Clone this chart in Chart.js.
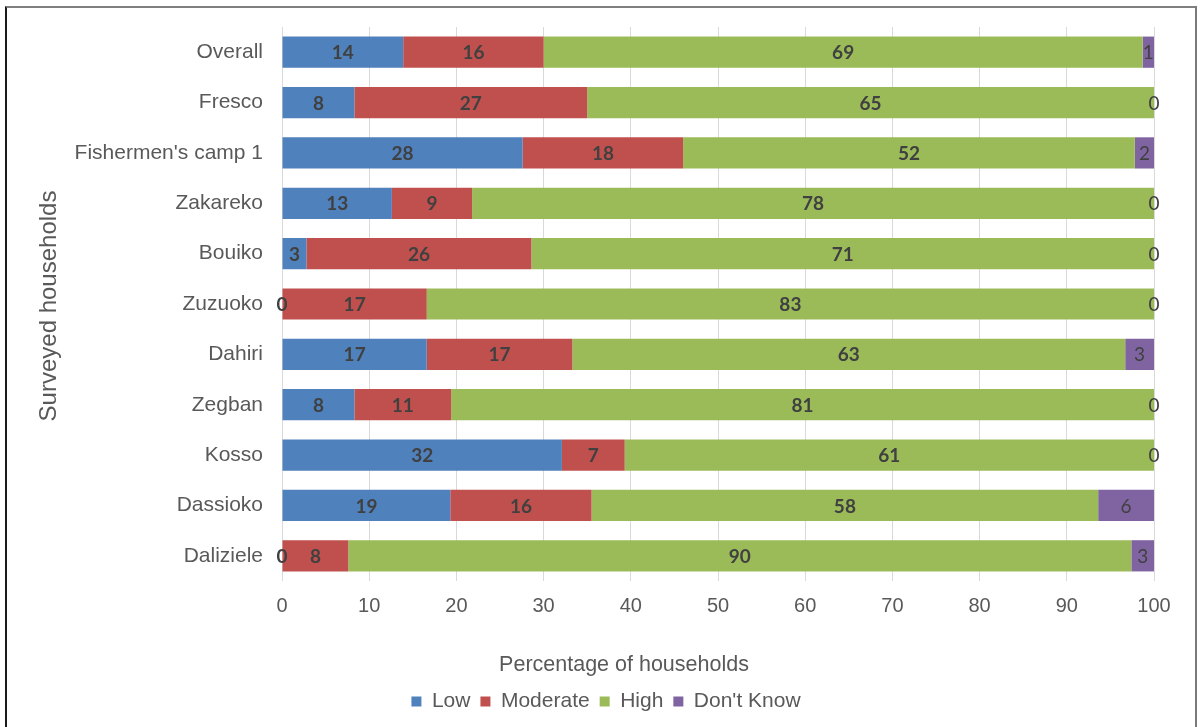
<!DOCTYPE html>
<html>
<head>
<meta charset="utf-8">
<script src="https://cdn.jsdelivr.net/npm/chart.js@4/dist/chart.umd.min.js"></script>
<style>
  html, body { margin: 0; padding: 0; background: #ffffff; overflow: hidden; }
  #frame { position: absolute; left: 5px; top: 6px; width: 1188px; height: 800px;
           border-left: 2px solid #1a1a1a; border-top: 2px solid #808080; border-right: 2px solid #7a7a7a; }
  #wrap { position: absolute; left: 0; top: 0; width: 1203px; height: 727px; }
</style>
</head>
<body>
<div id="frame"></div>
<div id="wrap"><canvas id="c"></canvas></div>
<script>
const categories = ["Overall", "Fresco", "Fishermen's camp 1", "Zakareko", "Bouiko", "Zuzuoko", "Dahiri", "Zegban", "Kosso", "Dassioko", "Daliziele"];
const lowValues      = [13.9, 8.3, 27.6, 12.6, 2.8, 0, 16.6, 8.3, 32.1, 19.3, 0];
const moderateValues = [16.1, 26.7, 18.4, 9.2, 25.8, 16.6, 16.7, 11.1, 7.2, 16.2, 7.6];
const highValues     = [68.7, 65.0, 51.8, 78.2, 71.4, 83.4, 63.4, 80.6, 60.7, 58.1, 89.8];
const dontKnowValues = [1.3, 0, 2.2, 0, 0, 0, 3.3, 0, 0, 6.4, 2.6];
const xTicks = [0, 10, 20, 30, 40, 50, 60, 70, 80, 90, 100];

const seriesNames = ["Low", "Moderate", "High", "Don't Know"];
const seriesColors = ["#4F81BD", "#C0504D", "#9BBB59", "#8064A2"];
const seriesData = [lowValues, moderateValues, highValues, dontKnowValues];

const xTitleText = 'Percentage of households';
const yTitleText = 'Surveyed households';

const labelPlugin = {
  id: 'segmentLabels',
  afterDatasetsDraw(chart) {
    const ctx = chart.ctx;
    ctx.save();
    ctx.textAlign = 'center';
    ctx.textBaseline = 'middle';
    ctx.fillStyle = '#404040';
    chart.data.datasets.forEach((ds, di) => {
      const meta = chart.getDatasetMeta(di);
      const bold = di < 3;
      ctx.font = (bold ? '700 ' : '400 ') + '19px Lato, "DejaVu Sans", sans-serif';
      meta.data.forEach((bar, i) => {
        const p = bar.getProps(['x', 'base', 'y'], true);
        const cx = (p.x + p.base) / 2;
        ctx.fillText(String(Math.round(ds.data[i])), cx, p.y + 1);
      });
    });
    ctx.restore();
  }
};

const axisTitlePlugin = {
  id: 'axisTitles',
  afterDraw(chart) {
    const ctx = chart.ctx;
    ctx.save();
    ctx.fillStyle = '#595959';
    ctx.textAlign = 'center';
    ctx.textBaseline = 'middle';
    ctx.font = '21.5px "Liberation Sans", Arial, sans-serif';
    ctx.fillText(xTitleText, 624, 665);
    ctx.translate(49, 306);
    ctx.rotate(-Math.PI / 2);
    ctx.font = '24px "Liberation Sans", Arial, sans-serif';
    ctx.fillText(yTitleText, 0, 0);
    ctx.restore();
  }
};

new Chart(document.getElementById('c'), {
  type: 'bar',
  data: {
    labels: categories,
    datasets: seriesData.map((d, i) => ({
      label: seriesNames[i],
      data: d,
      backgroundColor: seriesColors[i],
      borderWidth: 0,
      barPercentage: 0.62,
      categoryPercentage: 1.0
    }))
  },
  options: {
    indexAxis: 'y',
    responsive: true,
    maintainAspectRatio: false,
    animation: false,
    layout: { padding: { top: 27, right: 49, bottom: 5, left: 58 } },
    plugins: {
      legend: {
        position: 'bottom',
        labels: {
          boxWidth: 10, boxHeight: 10, padding: 10,
          color: '#595959',
          font: { family: '"Liberation Sans", Arial, sans-serif', size: 21 }
        }
      },
      tooltip: { enabled: false }
    },
    scales: {
      x: {
        stacked: true,
        min: 0, max: 100,
        afterBuildTicks(scale) { scale.ticks = xTicks.map(v => ({ value: v })); },
        afterFit(scale) { scale.height = 100; },
        grid: { color: '#d9d9d9', lineWidth: 1, drawTicks: false },
        border: { display: false },
        ticks: {
          padding: 13,
          color: '#595959',
          font: { family: '"Liberation Sans", Arial, sans-serif', size: 20 }
        },
        title: { display: false, text: xTitleText }
      },
      y: {
        stacked: true,
        afterFit(scale) { scale.width = 224; scale.paddingTop = 0; scale.paddingBottom = 0; },
        grid: { display: false, drawTicks: false },
        border: { display: false },
        ticks: {
          padding: 19,
          color: '#595959',
          font: { family: '"Liberation Sans", Arial, sans-serif', size: 21 }
        },
        title: { display: false, text: yTitleText }
      }
    }
  },
  plugins: [labelPlugin, axisTitlePlugin]
});
</script>
</body>
</html>
